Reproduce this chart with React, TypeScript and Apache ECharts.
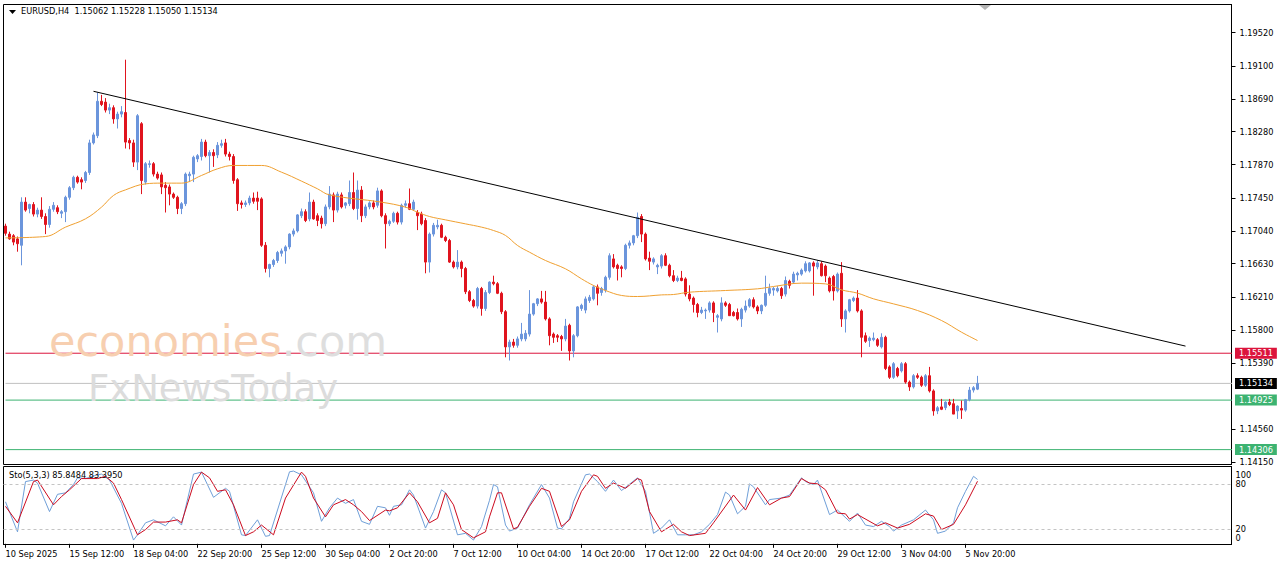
import React, { useEffect, useRef } from "react";
import * as echarts from "echarts";

// ---------- DATA ----------
const openPrices = [
  1.1710, 1.1700, 1.1698, 1.1694, 1.1686, 1.1740, 1.1732, 1.1737, 1.1725, 1.1730,
  1.1722, 1.1712, 1.1731, 1.1733, 1.1726, 1.1728, 1.1746, 1.1758, 1.1771, 1.1768,
  1.1767, 1.1777, 1.1814, 1.1823, 1.1866, 1.1865, 1.1855, 1.1858, 1.1844, 1.1850,
  1.1852, 1.1817, 1.1814, 1.1790, 1.1838, 1.1765, 1.1787, 1.1788, 1.1775, 1.1774,
  1.1761, 1.1759, 1.1750, 1.1746, 1.1732, 1.1738, 1.1773, 1.1775, 1.1794, 1.1797,
  1.1815, 1.1798, 1.1802, 1.1799, 1.1811, 1.1814, 1.1800, 1.1797, 1.1768, 1.1739,
  1.1737, 1.1739, 1.1745, 1.1745, 1.1744, 1.1686, 1.1657, 1.1662, 1.1667, 1.1676,
  1.1679, 1.1684, 1.1700, 1.1704, 1.1723, 1.1728, 1.1719, 1.1740, 1.1723, 1.1720,
  1.1713, 1.1734, 1.1749, 1.1730, 1.1749, 1.1736, 1.1738, 1.1752, 1.1732, 1.1755,
  1.1723, 1.1734, 1.1739, 1.1736, 1.1754, 1.1723, 1.1713, 1.1716, 1.1726, 1.1715,
  1.1736, 1.1738, 1.1731, 1.1727, 1.1725, 1.1717, 1.1665, 1.1700, 1.1709, 1.1711,
  1.1696, 1.1692, 1.1665, 1.1659, 1.1665, 1.1657, 1.1628, 1.1617, 1.1610, 1.1632,
  1.1607, 1.1627, 1.1640, 1.1638, 1.1626, 1.1603, 1.1559, 1.1565, 1.1561, 1.1569,
  1.1569, 1.1575, 1.1600, 1.1613, 1.1619, 1.1615, 1.1594, 1.1575, 1.1573, 1.1572,
  1.1569, 1.1586, 1.1554, 1.1573, 1.1607, 1.1605, 1.1617, 1.1619, 1.1634, 1.1627,
  1.1630, 1.1646, 1.1669, 1.1661, 1.1659, 1.1657, 1.1686, 1.1689, 1.1698, 1.1722,
  1.1700, 1.1670, 1.1665, 1.1659, 1.1660, 1.1673, 1.1661, 1.1648, 1.1642, 1.1645,
  1.1644, 1.1625, 1.1620, 1.1612, 1.1602, 1.1604, 1.1605, 1.1614, 1.1596, 1.1594,
  1.1614, 1.1612, 1.1602, 1.1602, 1.1594, 1.1605, 1.1610, 1.1618, 1.1609, 1.1604,
  1.1611, 1.1626, 1.1630, 1.1629, 1.1632, 1.1625, 1.1641, 1.1640, 1.1649, 1.1650,
  1.1654, 1.1654, 1.1664, 1.1659, 1.1663, 1.1660, 1.1645, 1.1647, 1.1629, 1.1651,
  1.1594, 1.1604, 1.1617, 1.1620, 1.1604, 1.1573, 1.1567, 1.1568, 1.1568, 1.1559,
  1.1571, 1.1534, 1.1521, 1.1532, 1.1529, 1.1538, 1.1515, 1.1509, 1.1523, 1.1521,
  1.1511, 1.1523, 1.1504, 1.1479, 1.1484, 1.1483, 1.1490, 1.1488, 1.1479, 1.1482,
  1.1480, 1.1493, 1.1505, 1.15062,
];
const highPrices = [
  1.1713, 1.1703, 1.1700, 1.1697, 1.1746, 1.1746, 1.1738, 1.1740, 1.1733, 1.1746,
  1.1726, 1.1735, 1.1740, 1.1736, 1.1730, 1.1748, 1.1760, 1.1773, 1.1773, 1.1771,
  1.1779, 1.1818, 1.1827, 1.1877, 1.1874, 1.1870, 1.1863, 1.1861, 1.1853, 1.1860,
  1.1918, 1.1820, 1.1818, 1.1850, 1.1840, 1.1790, 1.1792, 1.1790, 1.1778, 1.1777,
  1.1765, 1.1762, 1.1752, 1.1748, 1.1740, 1.1777, 1.1778, 1.1798, 1.1800, 1.1819,
  1.1818, 1.1805, 1.1806, 1.1815, 1.1818, 1.1819, 1.1803, 1.1800, 1.1770, 1.1742,
  1.1742, 1.1748, 1.1752, 1.1753, 1.1746, 1.1690, 1.1663, 1.1669, 1.1679, 1.1682,
  1.1686, 1.1701, 1.1707, 1.1725, 1.1732, 1.1731, 1.1752, 1.1743, 1.1726, 1.1723,
  1.1737, 1.1760, 1.1752, 1.1753, 1.1752, 1.1740, 1.1767, 1.1777, 1.1767, 1.1760,
  1.1737, 1.1741, 1.1742, 1.1758, 1.1756, 1.1726, 1.1718, 1.1728, 1.1728, 1.1738,
  1.1742, 1.1757, 1.1743, 1.1730, 1.1728, 1.1720, 1.1702, 1.1714, 1.1718, 1.1713,
  1.1698, 1.1694, 1.1667, 1.1680, 1.1667, 1.1659, 1.1630, 1.1619, 1.1634, 1.1634,
  1.1630, 1.1641, 1.1648, 1.1640, 1.1628, 1.1605, 1.1568, 1.1569, 1.1572, 1.1589,
  1.1580, 1.1630, 1.1614, 1.1620, 1.1629, 1.1629, 1.1596, 1.1577, 1.1575, 1.1574,
  1.1594, 1.1588, 1.1575, 1.1610, 1.1613, 1.1622, 1.1624, 1.1636, 1.1637, 1.1634,
  1.1648, 1.1676, 1.1675, 1.1663, 1.1661, 1.1688, 1.1692, 1.1699, 1.1727, 1.1725,
  1.1702, 1.1678, 1.1671, 1.1663, 1.1675, 1.1676, 1.1663, 1.1655, 1.1648, 1.1654,
  1.1646, 1.1636, 1.1622, 1.1614, 1.1609, 1.1607, 1.1616, 1.1616, 1.1600, 1.1621,
  1.1616, 1.1614, 1.1604, 1.1607, 1.1608, 1.1617, 1.1620, 1.1621, 1.1611, 1.1612,
  1.1648, 1.1638, 1.1634, 1.1635, 1.1634, 1.1647, 1.1643, 1.1653, 1.1653, 1.1657,
  1.1666, 1.1665, 1.1666, 1.1667, 1.1666, 1.1662, 1.1647, 1.1649, 1.1652, 1.1665,
  1.1606, 1.1619, 1.1622, 1.1630, 1.1606, 1.1577, 1.1572, 1.1577, 1.1570, 1.1576,
  1.1573, 1.1536, 1.1540, 1.1534, 1.1540, 1.1540, 1.1517, 1.1525, 1.1526, 1.1523,
  1.1525, 1.1534, 1.1506, 1.1485, 1.1494, 1.1491, 1.1494, 1.1494, 1.1486, 1.1492,
  1.1494, 1.1509, 1.1510, 1.15228,
];
const lowPrices = [
  1.1698, 1.1693, 1.1686, 1.1678, 1.1661, 1.1728, 1.1726, 1.1722, 1.1721, 1.1719,
  1.1700, 1.1708, 1.1728, 1.1725, 1.1720, 1.1715, 1.1743, 1.1755, 1.1763, 1.1756,
  1.1764, 1.1774, 1.1812, 1.1820, 1.1860, 1.1852, 1.1850, 1.1838, 1.1832, 1.1846,
  1.1807, 1.1806, 1.1784, 1.1780, 1.1750, 1.1762, 1.1783, 1.1772, 1.1768, 1.1750,
  1.1727, 1.1736, 1.1744, 1.1725, 1.1725, 1.1735, 1.1765, 1.1765, 1.1790, 1.1792,
  1.1796, 1.1777, 1.1784, 1.1795, 1.1808, 1.1797, 1.1792, 1.1763, 1.1729, 1.1732,
  1.1734, 1.1736, 1.1738, 1.1730, 1.1684, 1.1652, 1.1646, 1.1659, 1.1664, 1.1672,
  1.1663, 1.1681, 1.1697, 1.1702, 1.1720, 1.1715, 1.1716, 1.1718, 1.1710, 1.1707,
  1.1710, 1.1731, 1.1715, 1.1727, 1.1732, 1.1732, 1.1735, 1.1730, 1.1718, 1.1715,
  1.1720, 1.1731, 1.1731, 1.1733, 1.1721, 1.1682, 1.1710, 1.1714, 1.1712, 1.1712,
  1.1733, 1.1730, 1.1729, 1.1705, 1.1711, 1.1651, 1.1652, 1.1697, 1.1706, 1.1695,
  1.1690, 1.1664, 1.1657, 1.1656, 1.1646, 1.1625, 1.1615, 1.1608, 1.1607, 1.1598,
  1.1604, 1.1625, 1.1636, 1.1625, 1.1600, 1.1546, 1.1542, 1.1558, 1.1558, 1.1566,
  1.1566, 1.1572, 1.1598, 1.1610, 1.1613, 1.1592, 1.1561, 1.1564, 1.1565, 1.1554,
  1.1566, 1.1542, 1.1546, 1.1571, 1.1604, 1.1601, 1.1614, 1.1617, 1.1611, 1.1623,
  1.1627, 1.1643, 1.1657, 1.1642, 1.1646, 1.1655, 1.1682, 1.1686, 1.1695, 1.1690,
  1.1667, 1.1655, 1.1662, 1.1650, 1.1657, 1.1660, 1.1646, 1.1640, 1.1640, 1.1641,
  1.1622, 1.1616, 1.1602, 1.1596, 1.1600, 1.1594, 1.1602, 1.1590, 1.1577, 1.1591,
  1.1609, 1.1598, 1.1597, 1.1592, 1.1584, 1.1602, 1.1608, 1.1607, 1.1600, 1.1600,
  1.1609, 1.1623, 1.1623, 1.1627, 1.1619, 1.1622, 1.1632, 1.1638, 1.1642, 1.1648,
  1.1652, 1.1652, 1.1623, 1.1656, 1.1647, 1.1640, 1.1627, 1.1617, 1.1627, 1.1584,
  1.1577, 1.1602, 1.1615, 1.1602, 1.1546, 1.1564, 1.1559, 1.1566, 1.1559, 1.1557,
  1.1530, 1.1519, 1.1519, 1.1521, 1.1527, 1.1513, 1.1504, 1.1507, 1.1519, 1.1509,
  1.1509, 1.1502, 1.1473, 1.1475, 1.1480, 1.1480, 1.1485, 1.1475, 1.1469, 1.1469,
  1.1478, 1.1491, 1.1502, 1.15050,
];
const closePrices = [
  1.1701, 1.1694, 1.1690, 1.1688, 1.1740, 1.1730, 1.1737, 1.1725, 1.1730, 1.1722,
  1.1712, 1.1731, 1.1736, 1.1728, 1.1728, 1.1746, 1.1758, 1.1771, 1.1765, 1.1765,
  1.1777, 1.1814, 1.1824, 1.1866, 1.1862, 1.1855, 1.1858, 1.1844, 1.1850, 1.1853,
  1.1815, 1.1814, 1.1790, 1.1848, 1.1767, 1.1788, 1.1788, 1.1775, 1.1770, 1.1759,
  1.1758, 1.1750, 1.1746, 1.1732, 1.1738, 1.1775, 1.1775, 1.1796, 1.1798, 1.1815,
  1.1798, 1.1802, 1.1798, 1.1811, 1.1813, 1.1800, 1.1797, 1.1767, 1.1738, 1.1737,
  1.1739, 1.1745, 1.1741, 1.1741, 1.1686, 1.1657, 1.1662, 1.1667, 1.1677, 1.1679,
  1.1684, 1.1700, 1.1704, 1.1724, 1.1728, 1.1717, 1.1740, 1.1719, 1.1717, 1.1713,
  1.1734, 1.1750, 1.1730, 1.1750, 1.1734, 1.1739, 1.1752, 1.1732, 1.1755, 1.1723,
  1.1734, 1.1739, 1.1734, 1.1754, 1.1723, 1.1713, 1.1716, 1.1726, 1.1715, 1.1736,
  1.1738, 1.1731, 1.1740, 1.1723, 1.1713, 1.1665, 1.1700, 1.1711, 1.1711, 1.1696,
  1.1692, 1.1665, 1.1659, 1.1665, 1.1657, 1.1628, 1.1617, 1.1610, 1.1632, 1.1607,
  1.1627, 1.1640, 1.1638, 1.1626, 1.1603, 1.1559, 1.1565, 1.1561, 1.1569, 1.1575,
  1.1576, 1.1600, 1.1613, 1.1619, 1.1615, 1.1594, 1.1573, 1.1571, 1.1571, 1.1569,
  1.1585, 1.1554, 1.1573, 1.1609, 1.1611, 1.1619, 1.1621, 1.1634, 1.1626, 1.1632,
  1.1646, 1.1673, 1.1659, 1.1657, 1.1657, 1.1686, 1.1689, 1.1698, 1.1721, 1.1700,
  1.1669, 1.1666, 1.1669, 1.1661, 1.1673, 1.1661, 1.1648, 1.1642, 1.1645, 1.1642,
  1.1625, 1.1619, 1.1612, 1.1602, 1.1605, 1.1605, 1.1614, 1.1602, 1.1598, 1.1614,
  1.1611, 1.1598, 1.1598, 1.1594, 1.1606, 1.1610, 1.1618, 1.1609, 1.1604, 1.1611,
  1.1626, 1.1632, 1.1632, 1.1632, 1.1623, 1.1642, 1.1636, 1.1650, 1.1651, 1.1655,
  1.1663, 1.1664, 1.1660, 1.1664, 1.1648, 1.1648, 1.1629, 1.1629, 1.1650, 1.1594,
  1.1604, 1.1618, 1.1620, 1.1604, 1.1571, 1.1566, 1.1570, 1.1570, 1.1561, 1.1571,
  1.1532, 1.1521, 1.1538, 1.1523, 1.1538, 1.1515, 1.1509, 1.1523, 1.1521, 1.1511,
  1.1523, 1.1504, 1.1479, 1.1483, 1.1481, 1.1490, 1.1487, 1.1475, 1.1485, 1.1480,
  1.1493, 1.1505, 1.1508, 1.15134,
];

// moving average line, read at points along the orange curve
const maBarIndex = [0, 10, 15, 20, 24, 27, 30, 35, 39, 44, 49, 53, 57, 64, 69, 74, 78, 81, 94, 100, 103, 106, 110, 115, 119, 122, 125, 128, 131, 135, 140, 144, 147, 150, 154, 158, 164, 167, 171, 180, 188, 192, 199, 205, 209, 213, 217, 222, 228, 234, 239, 243];
const maValues = [1.16953, 1.16970, 1.17087, 1.17191, 1.17337, 1.17483, 1.17553, 1.17628, 1.17637, 1.17637, 1.17733, 1.17816, 1.17858, 1.17858, 1.17774, 1.17662, 1.17566, 1.17490, 1.17399, 1.17337, 1.17274, 1.17220, 1.17178, 1.17128, 1.17087, 1.17045, 1.16983, 1.16858, 1.16774, 1.16670, 1.16566, 1.16441, 1.16358, 1.16295, 1.16233, 1.16220, 1.16240, 1.16245, 1.16274, 1.16295, 1.16316, 1.16345, 1.16387, 1.16378, 1.16303, 1.16262, 1.16191, 1.16128, 1.16045, 1.15920, 1.15774, 1.15670];

// trend line end points
const trendBarIndex = [22, 295];
const trendValues = [1.18785, 1.156];

// horizontal levels
const levelValues = [1.15511, 1.15134, 1.14925, 1.14306];

// stochastic %K / %D turning points
const stoKIndex = [0, 3, 5, 7, 8, 11, 13, 15, 17, 18, 20, 23, 24, 26, 29, 32, 33, 35, 37, 40, 42, 44, 47, 49, 52, 55, 56, 59, 60, 63, 65, 66, 71, 72, 74, 77, 79, 81, 83, 85, 87, 89, 91, 93, 95, 96, 97, 99, 101, 102, 105, 107, 109, 110, 113, 115, 117, 119, 121, 122, 123, 125, 126, 128, 131, 134, 136, 138, 139, 141, 142, 145, 146, 148, 150, 152, 154, 158, 160, 162, 164, 166, 168, 170, 172, 174, 176, 178, 180, 181, 183, 185, 186, 187, 190, 191, 194, 196, 199, 200, 202, 203, 206, 208, 211, 213, 215, 217, 219, 221, 222, 224, 227, 230, 232, 233, 235, 237, 238, 240, 242, 243];
const stoKValues = [56, 16, 83, 85, 81, 43, 66, 68, 79, 88, 87, 92, 93, 85, 54, 5, 12, 28, 32, 24, 36, 25, 93, 95.6, 62, 74, 70, 12, 11, 32, 10, 11, 96, 97, 92, 68, 30, 48, 61, 54, 59, 30, 26, 50, 48, 38, 50, 52, 72, 65, 21, 43, 72, 68, 12, 14, 5, 23, 58, 79, 76, 25, 17, 21, 52, 79, 61, 21, 20, 34, 56, 92, 93, 83, 70, 85, 71, 88, 70, 14, 21, 32, 12, 12, 12, 16, 26, 39, 69, 65, 40, 50, 80, 76, 52, 59, 61, 65, 88, 83, 79, 85, 39, 45, 30, 41, 25, 23, 30, 23, 17, 25, 32, 45, 32, 14, 17, 28, 48, 70, 90, 85.8484];
const stoDIndex = [0, 3, 7, 8, 12, 14, 16, 19, 23, 25, 27, 29, 33, 35, 37, 40, 43, 44, 47, 49, 51, 53, 55, 57, 60, 62, 64, 67, 70, 74, 75, 77, 80, 82, 85, 87, 89, 91, 95, 96, 98, 101, 103, 106, 108, 110, 112, 114, 117, 120, 121, 123, 124, 127, 128, 131, 134, 136, 139, 141, 144, 147, 148, 150, 152, 155, 158, 159, 161, 164, 167, 169, 171, 175, 177, 182, 185, 188, 191, 194, 196, 199, 201, 203, 205, 208, 210, 211, 213, 218, 220, 223, 226, 230, 232, 234, 237, 240, 243];
const stoDValues = [50, 28, 83, 85, 52, 63, 72, 87, 87, 90, 81, 59, 12, 19, 29, 29, 32, 28, 79, 95.6, 88, 70, 72, 52, 11, 16, 25, 12, 61, 95.6, 90, 61, 36, 52, 59, 52, 43, 31, 45, 44, 48, 68, 56, 28, 34, 68, 52, 19, 8, 16, 36, 68, 68, 20, 22, 50, 74, 70, 23, 32, 70, 92, 90, 74, 81, 74, 87, 85, 43, 16, 26, 16, 11, 14, 28, 65, 45, 75, 52, 61, 63, 87, 81, 80, 72, 41, 40, 33, 39, 24, 28, 21, 26, 40, 37, 19, 26, 52, 83.395];

// axis tick labels
const priceTickValues = [1.1415, 1.1456, 1.1539, 1.158, 1.1621, 1.1663, 1.1704, 1.1745, 1.1787, 1.1828, 1.1869, 1.191, 1.1952];
const dateTickLabels = [
  "10 Sep 2025", "15 Sep 12:00", "18 Sep 04:00", "22 Sep 20:00", "25 Sep 12:00",
  "30 Sep 04:00", "2 Oct 20:00", "7 Oct 12:00", "10 Oct 04:00", "14 Oct 20:00",
  "17 Oct 12:00", "22 Oct 04:00", "24 Oct 20:00", "29 Oct 12:00", "3 Nov 04:00",
  "5 Nov 20:00",
];
const stoLevelValues = [20, 80];
const stoLabelValues = [92, 80, 20, 8];
const stoLabelTexts = ["100", "80", "20", "0"];

const headerText = "EURUSD,H4  1.15062 1.15228 1.15050 1.15134";
const stoTitle = "Sto(5,3,3) 85.8484 83.3950";

// ---------- helpers ----------
const SLOT_COUNT = 307; // bars + empty right margin of the chart
const TICK_STEP = 16;
const MONTHS = ["Jan", "Feb", "Mar", "Apr", "May", "Jun", "Jul", "Aug", "Sep", "Oct", "Nov", "Dec"];

function buildBarTimes(count: number): string[] {
  const out: string[] = [];
  let t = Date.UTC(2025, 8, 10, 20, 0);
  while (out.length < count) {
    const d = new Date(t);
    const wd = d.getUTCDay();
    if (wd !== 0 && wd !== 6) {
      const hh = String(d.getUTCHours()).padStart(2, "0");
      out.push(`${d.getUTCDate()} ${MONTHS[d.getUTCMonth()]} ${hh}:00`);
    }
    t += 4 * 3600 * 1000;
  }
  return out;
}

function sparse(idx: number[], vals: number[], n: number): (number | null)[] {
  const arr: (number | null)[] = new Array(n).fill(null);
  idx.forEach((i, j) => (arr[i] = vals[j]));
  return arr;
}

const FONT = "DejaVu Sans";
const FS = 8.2;
const BULL = "#6b95dc";
const BEAR = "#e0141e";

const levelStyles = [
  { line: "#dc143c", box: "#dc143c" },
  { line: "#c0c0c0", box: "#000000" },
  { line: "#3cb371", box: "#3cb371" },
  { line: "#3cb371", box: "#3cb371" },
];

function levelSeries(value: number, i: number) {
  return {
    type: "line",
    name: "level" + i,
    xAxisIndex: 0,
    yAxisIndex: 0,
    data: [[-0.5, value], [SLOT_COUNT - 0.5, value]],
    showSymbol: false,
    symbol: "none",
    silent: true,
    clip: false,
    lineStyle: { color: levelStyles[i].line, width: 1, type: "solid" },
    endLabel: {
      show: true,
      distance: 3,
      formatter: () => value.toFixed(5),
      color: "#ffffff",
      backgroundColor: levelStyles[i].box,
      padding: [2, 4, 1, 4],
      fontFamily: FONT,
      fontSize: FS,
    },
    z: 2,
  };
}

function buildOption() {
  const categories = buildBarTimes(SLOT_COUNT);
  const candleData = openPrices.map((o, i) => [o, closePrices[i], lowPrices[i], highPrices[i]]);
  const maData = sparse(maBarIndex, maValues, openPrices.length);
  const kData = sparse(stoKIndex, stoKValues, openPrices.length);
  const dData = sparse(stoDIndex, stoDValues, openPrices.length);
  const trendData = trendBarIndex.map((i, j) => [i, trendValues[j]]);
  const lastTick = (dateTickLabels.length - 1) * TICK_STEP;
  const showTick = (i: number) => i % TICK_STEP === 0 && i <= lastTick;

  return {
    animation: false,
    backgroundColor: "#ffffff",
    textStyle: { fontFamily: FONT },
    grid: [
      { left: 3.5, right: 48.5, top: 4.5, bottom: 102.5, show: true, borderColor: "#000", borderWidth: 1, backgroundColor: "#fff" },
      { left: 3.5, right: 48.5, top: 466.5, bottom: 22.5, show: true, borderColor: "#000", borderWidth: 1, backgroundColor: "#fff" },
    ],
    xAxis: [
      { type: "category", gridIndex: 0, data: categories, boundaryGap: true, show: false },
      {
        type: "category", gridIndex: 1, data: categories, boundaryGap: true,
        axisLine: { show: true, lineStyle: { color: "#000", width: 1 } },
        axisTick: { show: true, alignWithLabel: true, interval: (i: number) => showTick(i), length: 4, lineStyle: { color: "#000" } },
        axisLabel: {
          show: true, interval: (i: number) => showTick(i), align: "left", margin: 5,
          color: "#000", fontFamily: FONT, fontSize: FS,
          formatter: (_v: string, i: number) => dateTickLabels[i / TICK_STEP] ?? "",
        },
        splitLine: { show: false },
      },
    ],
    yAxis: [
      {
        type: "value", gridIndex: 0, position: "right", min: 1.1412, max: 1.1987,
        axisLine: { show: true, lineStyle: { color: "#000" } },
        axisTick: { show: true, length: 4, customValues: priceTickValues, lineStyle: { color: "#000" } },
        axisLabel: { show: true, customValues: priceTickValues, margin: 8, color: "#000", fontFamily: FONT, fontSize: FS, formatter: (v: number) => v.toFixed(5) },
        splitLine: { show: false },
      },
      {
        type: "value", gridIndex: 1, position: "right", min: -0.9, max: 103.1,
        axisLine: { show: true, lineStyle: { color: "#000" } },
        axisTick: { show: false },
        axisLabel: {
          show: true, customValues: stoLabelValues, margin: 4, color: "#000", fontFamily: FONT, fontSize: FS,
          formatter: (v: number) => stoLabelTexts[stoLabelValues.indexOf(v)] ?? "",
        },
        splitLine: { show: false },
      },
    ],
    series: [
      ...levelValues.map((v, i) => levelSeries(v, i)),
      {
        type: "candlestick", name: "EURUSD", xAxisIndex: 0, yAxisIndex: 0, data: candleData,
        barWidth: 2,
        itemStyle: { color: BULL, color0: BEAR, borderColor: BULL, borderColor0: BEAR, borderWidth: 1 },
        z: 3,
      },
      {
        type: "line", name: "MA", xAxisIndex: 0, yAxisIndex: 0, data: maData, connectNulls: true,
        smooth: 0.4, showSymbol: false, symbol: "none", lineStyle: { color: "#f0a030", width: 1 }, z: 4,
      },
      {
        type: "line", name: "Trend", xAxisIndex: 0, yAxisIndex: 0, data: trendData,
        showSymbol: false, symbol: "none", lineStyle: { color: "#000", width: 1 }, z: 5,
      },
      {
        type: "line", name: "%K", xAxisIndex: 1, yAxisIndex: 1, data: kData, connectNulls: true,
        showSymbol: false, symbol: "none", lineStyle: { color: "#6f9fd8", width: 1 }, z: 3,
        markLine: {
          silent: true, symbol: ["none", "none"], precision: 2,
          data: stoLevelValues.map((v) => ({ yAxis: v })),
          lineStyle: { color: "#c4c4c4", width: 1, type: [3, 3] },
          label: { show: false },
        },
      },
      {
        type: "line", name: "%D", xAxisIndex: 1, yAxisIndex: 1, data: dData, connectNulls: true,
        showSymbol: false, symbol: "none", lineStyle: { color: "#cc0a1e", width: 1 }, z: 4,
      },
    ],
    graphic: [
      { type: "polygon", shape: { points: [[9, 10], [16, 10], [12.5, 14]] }, style: { fill: "#000" }, z: 100 },
      { type: "text", left: 21, top: 7, style: { text: headerText, fill: "#000", font: `${FS}px "${FONT}"` }, z: 100 },
      { type: "text", left: 9, top: 471, style: { text: stoTitle, fill: "#000", font: `${FS}px "${FONT}"` }, z: 100 },
      { type: "polygon", shape: { points: [[979, 5], [991, 5], [985, 10]] }, style: { fill: "#b4b4b4" }, z: 100 },
      {
        type: "text", x: 49, y: 341, z: 100,
        style: {
          text: "{a|economies}{b|.com}", verticalAlign: "middle",
          rich: {
            a: { fill: "#f7cfb0", fontSize: 43, fontFamily: FONT },
            b: { fill: "#dedede", fontSize: 43, fontFamily: FONT },
          },
        },
      },
      {
        type: "text", x: 88, y: 388.5, z: 100,
        style: { text: "FxNewsToday", verticalAlign: "middle", fill: "#dcdcdc", fontSize: 37, fontFamily: FONT },
      },
    ],
  };
}

export default function App() {
  const ref = useRef<HTMLDivElement>(null);
  useEffect(() => {
    if (!ref.current) return;
    const chart = echarts.init(ref.current, null, { renderer: "svg" });
    chart.setOption(buildOption() as any);
    return () => chart.dispose();
  }, []);
  return (
    <div
      ref={ref}
      style={{ position: "fixed", left: 0, top: 0, width: 1280, height: 567, background: "#fff" }}
    />
  );
}
